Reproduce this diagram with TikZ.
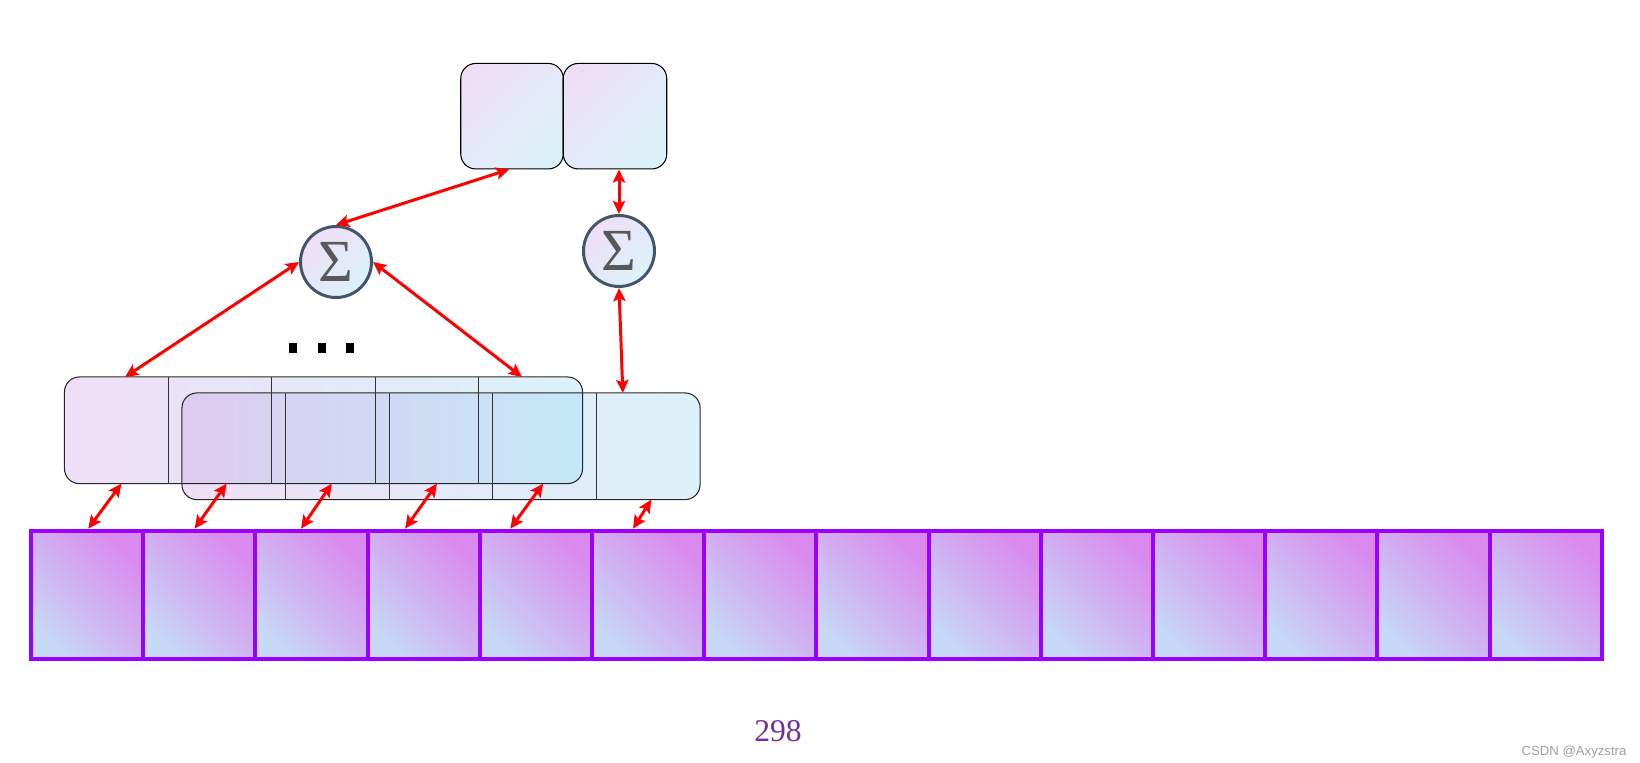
\documentclass[tikz,border=0pt]{standalone}
\usepackage{fontspec}
\usepackage{xcolor}
\usepackage{tikz}
\usetikzlibrary{calc,arrows.meta}
\newfontfamily\numfont{Liberation Serif}
\newfontfamily\markfont{Liberation Sans}
\definecolor{linkred}{RGB}{255, 0, 0}
\definecolor{lav}{RGB}{238, 223, 247}
\definecolor{icy}{RGB}{220, 242, 250}
\definecolor{ovlav}{RGB}{221, 204, 240}
\definecolor{ovicy}{RGB}{196, 231, 247}
\definecolor{cellpink}{RGB}{218, 138, 238}
\definecolor{cellblue}{RGB}{199, 216, 246}
\definecolor{cellrim}{RGB}{153, 0, 255}
\definecolor{ringgray}{RGB}{68, 84, 106}
\definecolor{sigmagray}{RGB}{89, 89, 89}
\definecolor{pagenum}{RGB}{112, 48, 160}
\definecolor{markgray}{RGB}{160, 160, 160}

\begin{document}
\begin{tikzpicture}[x=0.02cm,y=-0.02cm,
  link/.style={linkred,line width=1.7pt,{Stealth[length=7.5pt,width=7pt,inset=1.5pt]}-{Stealth[length=7.5pt,width=7pt,inset=1.5pt]}},
  card/.style={draw=black,line width=0.6pt,rounded corners=0.3cm,top color=lav,bottom color=icy,shading angle=45,minimum height=2.11cm,inner sep=0pt},
  sumnode/.style={circle,draw=ringgray,line width=1.7pt,top color=lav,bottom color=icy,shading angle=45,minimum size=1.42cm,inner sep=0pt,text=sigmagray,font=\numfont\fontsize{34}{34}\selectfont},
  win/.style={rounded corners=0.3cm,left color=lav,right color=icy,minimum width=10.35cm,minimum height=2.12cm,inner sep=0pt},
  cell/.style={draw=cellrim,line width=2.3pt,top color=cellpink,bottom color=cellblue,shading angle=-45,minimum width=2.244cm,minimum height=2.566cm,inner sep=0pt}]
\useasboundingbox (0,0) rectangle (1640,763);
% strip of cells
\foreach \i in {1,...,14}
  \node[cell] (c\i) at ({31+112.2*(\i-0.5)},594.8) {};
% two overlapping windows
\node[win] (win1) at (323.5,430.3) {};
\node[win] (win2) at (441,446.3) {};
\begin{scope}
\clip[rounded corners=0.3cm] (win1.south west) rectangle (win1.north east);
\clip[rounded corners=0.3cm] (win2.south west) rectangle (win2.north east);
\shade[left color=ovlav,right color=ovicy] (win2.south west) rectangle (win1.north east);
\end{scope}
\draw[black!85,line width=0.6pt,rounded corners=0.3cm] (win1.south west) rectangle (win1.north east);
\draw[black!85,line width=0.6pt,rounded corners=0.3cm] (win2.south west) rectangle (win2.north east);
\foreach \k in {1,...,4} {
  \draw[black!80,line width=0.5pt] ($(win1.north west)!0.2*\k!(win1.north east)$) -- ($(win1.south west)!0.2*\k!(win1.south east)$);
  \draw[black!80,line width=0.5pt] ($(win2.north west)!0.2*\k!(win2.north east)$) -- ($(win2.south west)!0.2*\k!(win2.south east)$);
}
% sums and outputs
\node[sumnode] (sig1) at (336,262) {Σ};
\node[sumnode] (sig2) at (619,251) {Σ};
\node[card,minimum width=2.05cm] (top1) at (512,116.2) {};
\node[card,minimum width=2.07cm] (top2) at (615,116.2) {};
\foreach \x in {293.3,321.7,350}
  \fill (\x-4,342.7) rectangle (\x+4,352.7);
% links
\draw[link] ([xshift=-0.06cm]top1.south) -- (sig1.north);
\draw[link] (sig2.north |- top2.south) -- (sig2.north);
\draw[link] (sig1.west) -- ($(win1.north west)!0.117!(win1.north east)$);
\draw[link] (sig1.east) -- ($(win1.north west)!0.883!(win1.north east)$);
\draw[link] (sig2.south) -- ($(win2.north west)!0.851!(win2.north east)$);
\foreach \i/\p/\q in {1/0.110/0.51,2/0.313/0.46,3/0.516/0.41,4/0.719/0.34,5/0.924/0.28}
  \draw[link] ($(win1.south west)!\p!(win1.south east)$) -- ($(c\i.north west)!\q!(c\i.north east)$);
\draw[link] ($(win2.south west)!0.906!(win2.south east)$) -- ($(c6.north west)!0.37!(c6.north east)$);
% texts
\node[text=pagenum,font=\numfont\fontsize{18}{18}\selectfont] (pnum) at (778,731) {298};
\node[text=markgray,font=\markfont\fontsize{7.5}{8}\selectfont] (mark) at (1574,752) {CSDN @Axyzstra};
\end{tikzpicture}
\end{document}
